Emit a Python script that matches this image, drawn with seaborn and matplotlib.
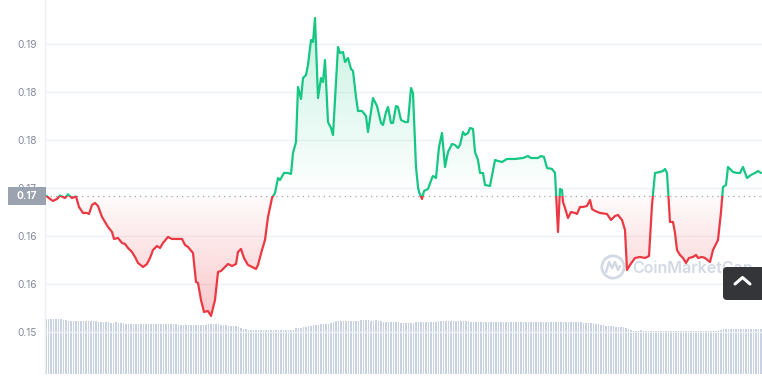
import numpy as np
import pandas as pd
import matplotlib
matplotlib.use("Agg")
import matplotlib.pyplot as plt
import seaborn as sns
from matplotlib.patches import Rectangle, FancyBboxPatch
from matplotlib.path import Path
from matplotlib.lines import Line2D
from matplotlib.transforms import IdentityTransform
from matplotlib.colors import to_rgb

# ---------------- data ----------------
minutes = [
    2, 10, 16, 24, 30, 40, 46, 54, 62, 68,
    76, 84, 88, 94, 100, 106, 114, 120, 126, 134,
    138, 146, 154, 160, 166, 174, 180, 186, 196, 204,
    210, 216, 224, 230, 236, 246, 254, 274, 280, 286,
    296, 302, 306, 312, 318, 326, 332, 340, 346, 352,
    360, 366, 374, 382, 386, 392, 398, 406, 414, 422,
    426, 434, 440, 446, 454, 460, 466, 470, 478, 486,
    492, 496, 502, 506, 512, 516, 522, 526, 532, 536,
    540, 546, 552, 556, 560, 566, 572, 576, 586, 590,
    596, 600, 606, 612, 616, 622, 626, 634, 642, 646,
    652, 656, 664, 672, 676, 682, 686, 692, 696, 702,
    706, 712, 720, 726, 732, 736, 742, 746, 748, 754,
    758, 766, 774, 776, 782, 788, 794, 800, 806, 814,
    820, 826, 830, 836, 840, 846, 850, 856, 860, 866,
    870, 876, 880, 890, 900, 906, 914, 924, 934, 940,
    956, 966, 972, 986, 992, 998, 1004, 1014, 1020, 1026,
    1030, 1034, 1036, 1040, 1046, 1052, 1060, 1064, 1070, 1076,
    1084, 1090, 1094, 1100, 1110, 1124, 1132, 1140, 1146, 1154,
    1160, 1164, 1170, 1180, 1190, 1200, 1208, 1214, 1220, 1230,
    1236, 1240, 1244, 1250, 1256, 1260, 1264, 1270, 1276, 1282,
    1288, 1296, 1302, 1306, 1314, 1320, 1330, 1336, 1346, 1352,
    1356, 1362, 1366, 1376, 1384, 1390, 1396, 1404, 1412, 1420,
    1426, 1432,
]

price = [
    0.16905, 0.16863, 0.16838, 0.16863, 0.16905, 0.16875, 0.16920, 0.16875, 0.16895, 0.16763,
    0.16688, 0.16688, 0.16675, 0.16788, 0.16813, 0.16775, 0.16638, 0.16575, 0.16513, 0.16450,
    0.16363, 0.16375, 0.16313, 0.16300, 0.16250, 0.16200, 0.16138, 0.16063, 0.16013, 0.16050,
    0.16125, 0.16225, 0.16275, 0.16250, 0.16313, 0.16388, 0.16363, 0.16363, 0.16288, 0.16263,
    0.16188, 0.15825, 0.15813, 0.15600, 0.15450, 0.15463, 0.15400, 0.15600, 0.15950, 0.15963,
    0.16013, 0.16050, 0.16025, 0.16050, 0.16200, 0.16238, 0.16125, 0.16038, 0.16013, 0.15988,
    0.16038, 0.16225, 0.16350, 0.16638, 0.16875, 0.16938, 0.17125, 0.17100, 0.17188, 0.17188,
    0.17175, 0.17438, 0.17575, 0.18263, 0.18113, 0.18375, 0.18413, 0.18538, 0.18850, 0.18825,
    0.19125, 0.18125, 0.18375, 0.18325, 0.18600, 0.17825, 0.17750, 0.17663, 0.18763, 0.18688,
    0.18700, 0.18575, 0.18625, 0.18488, 0.18463, 0.18138, 0.17963, 0.17963, 0.17900, 0.17700,
    0.17950, 0.18125, 0.18025, 0.17813, 0.17788, 0.17950, 0.18013, 0.17813, 0.17813, 0.18025,
    0.18013, 0.17850, 0.17825, 0.17825, 0.18250, 0.18188, 0.17263, 0.17013, 0.16950, 0.16863,
    0.16963, 0.16988, 0.17125, 0.17150, 0.17125, 0.17513, 0.17688, 0.17263, 0.17450, 0.17550,
    0.17538, 0.17500, 0.17538, 0.17700, 0.17663, 0.17688, 0.17750, 0.17738, 0.17450, 0.17350,
    0.17188, 0.17188, 0.17038, 0.17025, 0.17350, 0.17338, 0.17325, 0.17363, 0.17363, 0.17363,
    0.17375, 0.17400, 0.17375, 0.17375, 0.17400, 0.17388, 0.17250, 0.17238, 0.17188, 0.16450,
    0.16988, 0.16975, 0.16825, 0.16750, 0.16625, 0.16700, 0.16688, 0.16675, 0.16763, 0.16763,
    0.16775, 0.16850, 0.16738, 0.16713, 0.16688, 0.16675, 0.16600, 0.16650, 0.16663, 0.16600,
    0.16475, 0.15975, 0.16038, 0.16125, 0.16138, 0.16125, 0.16150, 0.16788, 0.17188, 0.17200,
    0.17213, 0.17238, 0.17188, 0.16575, 0.16575, 0.16438, 0.16225, 0.16163, 0.16125, 0.16063,
    0.16125, 0.16138, 0.16163, 0.16125, 0.16138, 0.16125, 0.16075, 0.16225, 0.16350, 0.16700,
    0.17013, 0.17038, 0.17263, 0.17200, 0.17188, 0.17188, 0.17263, 0.17125, 0.17163, 0.17188,
    0.17213, 0.17188,
]

# volume per 5-minute bar (millions)
volume_m = [
    5.55, 5.55, 5.55, 5.55, 5.5, 5.5, 5.5, 5.45, 5.45,
    5.35, 5.3, 5.3, 5.3, 5.3, 5.3, 5.3, 5.3, 5.3, 5.3, 5.3, 5.3, 5.25, 5.25, 5.25,
    5.2, 5.2, 5.15, 5.1, 5.2, 5.15, 5.1, 5.1,
    5.0, 5.0, 5.0, 5.05, 5.05, 5.05, 5.05, 5.05, 5.05, 5.05, 5.05, 5.05, 5.05, 5.05,
    5.0, 5.0, 5.0, 5.0, 5.0, 5.0, 5.0,
    4.9, 4.9, 4.9, 4.9, 4.9, 4.95, 4.95, 4.9, 4.9, 4.9, 4.9, 4.95, 5.0, 5.0, 5.0,
    5.0, 5.0, 4.95, 4.95, 4.9,
    4.8, 4.8, 4.8, 4.8, 4.7, 4.6, 4.5, 4.5,
    4.45, 4.4, 4.45, 4.4, 4.4, 4.45, 4.45, 4.45, 4.45, 4.45, 4.45, 4.45, 4.45, 4.4,
    4.45, 4.45, 4.45, 4.45, 4.45, 4.6,
    4.6, 4.65, 4.7, 4.75, 4.8, 4.85,
    4.9, 4.9, 4.95, 5.0, 5.0, 5.0, 5.05, 5.1, 5.2,
    5.3, 5.3, 5.35, 5.3, 5.3, 5.3, 5.3, 5.35, 5.3, 5.35, 5.4, 5.4,
    5.4, 5.4, 5.35, 5.35, 5.4, 5.3, 5.3, 5.25,
    5.2, 5.2, 5.2, 5.2, 5.2, 5.2, 5.15, 5.15, 5.1, 5.1, 5.1, 5.15, 5.2, 5.2, 5.2,
    5.2, 5.2, 5.2, 5.2, 5.25, 5.25,
    5.35, 5.35, 5.35, 5.35, 5.3, 5.3, 5.3, 5.3,
    5.3, 5.3, 5.3, 5.3, 5.3, 5.25, 5.25, 5.25, 5.25, 5.2, 5.2,
    5.2, 5.2, 5.2, 5.2, 5.2, 5.2, 5.25, 5.2, 5.2, 5.2, 5.2, 5.2, 5.2, 5.2, 5.25,
    5.25, 5.2, 5.2, 5.2, 5.2, 5.2, 5.2, 5.25, 5.25, 5.25, 5.25, 5.2, 5.2, 5.2, 5.2,
    5.25, 5.25, 5.25, 5.25, 5.25, 5.25, 5.2, 5.2, 5.2, 5.15,
    5.1, 5.1, 5.1, 5.1, 5.05, 5.0, 4.95,
    4.9, 4.85, 4.85, 4.8, 4.8, 4.75, 4.7, 4.7, 4.7, 4.65, 4.55, 4.45, 4.35, 4.3,
    4.35, 4.4,
    4.35, 4.35, 4.35, 4.35, 4.35, 4.3, 4.3, 4.3, 4.35, 4.35, 4.35, 4.35, 4.35, 4.3,
    4.3, 4.3, 4.3, 4.3, 4.3, 4.3, 4.3, 4.3, 4.3, 4.3, 4.35, 4.35, 4.35, 4.35, 4.35,
    4.35, 4.4, 4.4,
    4.5, 4.5, 4.5, 4.5, 4.5, 4.5, 4.5, 4.5, 4.5, 4.5, 4.5, 4.5, 4.5, 4.5, 4.5, 4.5,
]

baseline_price = 0.169
baseline_label = "0.17"
ytick_values = [0.152, 0.158, 0.164, 0.170, 0.176, 0.182, 0.188]
ytick_labels = ["0.15", "0.16", "0.16", "0.17", "0.18", "0.18", "0.19"]
xtick_minutes = [222, 402, 582, 762, 942, 1122, 1302]
watermark = "CoinMarketCap"

# ---------------- style ----------------
GREEN = "#16c784"
RED = "#ea3943"
sns.set_style("white")
plt.rcParams["font.family"] = ["Inter", "DejaVu Sans"]

W, H = 762, 376
fig = plt.figure(figsize=(W / 100, H / 100), dpi=100)
rect = [45 / W, 2 / H, 717 / W, 374 / H]
axv = fig.add_axes(rect)
ax = fig.add_axes(rect)
ax.patch.set_visible(False)

XMIN, XMAX = 0, 1434
YMIN, YMAX = 0.14675, 0.1935

# volume bars
vol_t = np.arange(len(volume_m)) * 5 + 2
axv.bar(vol_t, volume_m, width=2.3, color="#c9d2e2", linewidth=0)
axv.set_xlim(XMIN, XMAX)
axv.set_ylim(0, 37.4)
axv.axis("off")

# price
df = pd.DataFrame({"minute": minutes, "price": price})
t = df["minute"].to_numpy(float)
p = df["price"].to_numpy(float)
base = baseline_price

# gradient fills
up = ax.fill_between(t, p, base, where=p >= base, interpolate=True,
                     facecolor="none", edgecolor="none")
dn = ax.fill_between(t, p, base, where=p <= base, interpolate=True,
                     facecolor="none", edgecolor="none")
grad = np.linspace(0, 1, 256).reshape(-1, 1)
img_up = np.zeros((256, 1, 4))
img_up[..., :3] = to_rgb(GREEN)
img_up[..., 3] = grad * 0.24
img_dn = np.zeros((256, 1, 4))
img_dn[..., :3] = to_rgb(RED)
img_dn[..., 3] = (1 - grad) * 0.26 + 0.02

im_up = ax.imshow(img_up, extent=[XMIN, XMAX, base, p.max()], origin="lower",
                  aspect="auto", zorder=2, interpolation="bilinear")
im_up.set_clip_path(Path.make_compound_path(*up.get_paths()), ax.transData)
im_dn = ax.imshow(img_dn, extent=[XMIN, XMAX, p.min(), base], origin="lower",
                  aspect="auto", zorder=2, interpolation="bilinear")
im_dn.set_clip_path(Path.make_compound_path(*dn.get_paths()), ax.transData)

# lines, coloured by side of baseline
sns.lineplot(data=df, x="minute", y="price", ax=ax, color=GREEN, lw=1.6, zorder=4)
ln_up = ax.lines[-1]
ln_up.set_clip_path(Rectangle((XMIN, base), XMAX - XMIN, 1, transform=ax.transData))
sns.lineplot(data=df, x="minute", y="price", ax=ax, color=RED, lw=1.6, zorder=4)
ln_dn = ax.lines[-1]
ln_dn.set_clip_path(Rectangle((XMIN, base - 1), XMAX - XMIN, 1, transform=ax.transData))

# baseline
ax.axhline(base, color="#9ea5b5", lw=0.9, ls=(0, (1, 3.2)), zorder=3)

ax.set_xlim(XMIN, XMAX)
ax.set_ylim(YMIN, YMAX)
ax.set_xlabel("")
ax.set_ylabel("")
ax.set_yticks(ytick_values)
ax.set_yticklabels(ytick_labels)
ax.set_xticks(xtick_minutes)
ax.set_xticklabels([])
ax.tick_params(axis="y", length=0, pad=6, labelsize=7.3, labelcolor="#808a9d")
ax.tick_params(axis="x", length=3, width=0.8, color="#8d96a8", direction="out")
ax.yaxis.grid(True, color="#eff2f5", lw=1)
ax.xaxis.grid(False)
for s in ["top", "right", "bottom"]:
    ax.spines[s].set_visible(False)
ax.spines["left"].set_color("#eceff3")
ax.spines["left"].set_linewidth(1)

# baseline price tag
ytr = ax.get_yaxis_transform()
ax.add_patch(Rectangle((-37 / 717, base - 9 / 8000), 38 / 717, 18 / 8000,
                       transform=ytr, clip_on=False, facecolor="#9ca3b0",
                       edgecolor="none", zorder=10))
ax.text(-18 / 717, base, baseline_label, transform=ytr, ha="center", va="center",
        color="white", fontsize=7.3, fontweight="bold", zorder=11, clip_on=False)

# watermark
ax.scatter([(613 - 45) / 717], [(374 - 267) / 374], s=16 ** 2, facecolors="none",
           edgecolors="#d3d9e5", linewidths=2.0, transform=ax.transAxes, zorder=1)
ax.add_line(Line2D([(606 - 45) / 717, (609 - 45) / 717, (612 - 45) / 717,
                    (615 - 45) / 717, (618 - 45) / 717, (620 - 45) / 717],
                   [(374 - 272) / 374, (374 - 262) / 374, (374 - 268) / 374,
                    (374 - 262) / 374, (374 - 270) / 374, (374 - 266) / 374],
                   transform=ax.transAxes, color="#d3d9e5", lw=1.8, zorder=1))
ax.text((632 - 45) / 717, (374 - 268) / 374, watermark, transform=ax.transAxes,
        ha="left", va="center", fontsize=11.5, color="#d3d9e5",
        fontweight="semibold", zorder=1)

# scroll-to-top button
btn = FancyBboxPatch((723, 76), 42, 33, boxstyle="round,pad=0,rounding_size=4",
                     transform=IdentityTransform(), facecolor="#333539",
                     edgecolor="none", zorder=20)
fig.add_artist(btn)
chev = Line2D([735, 742.5, 750], [92, 98.5, 92], transform=IdentityTransform(),
              color="white", lw=2.2, solid_capstyle="round", solid_joinstyle="round",
              zorder=21)
fig.add_artist(chev)

fig.savefig("out.png", dpi=100)
